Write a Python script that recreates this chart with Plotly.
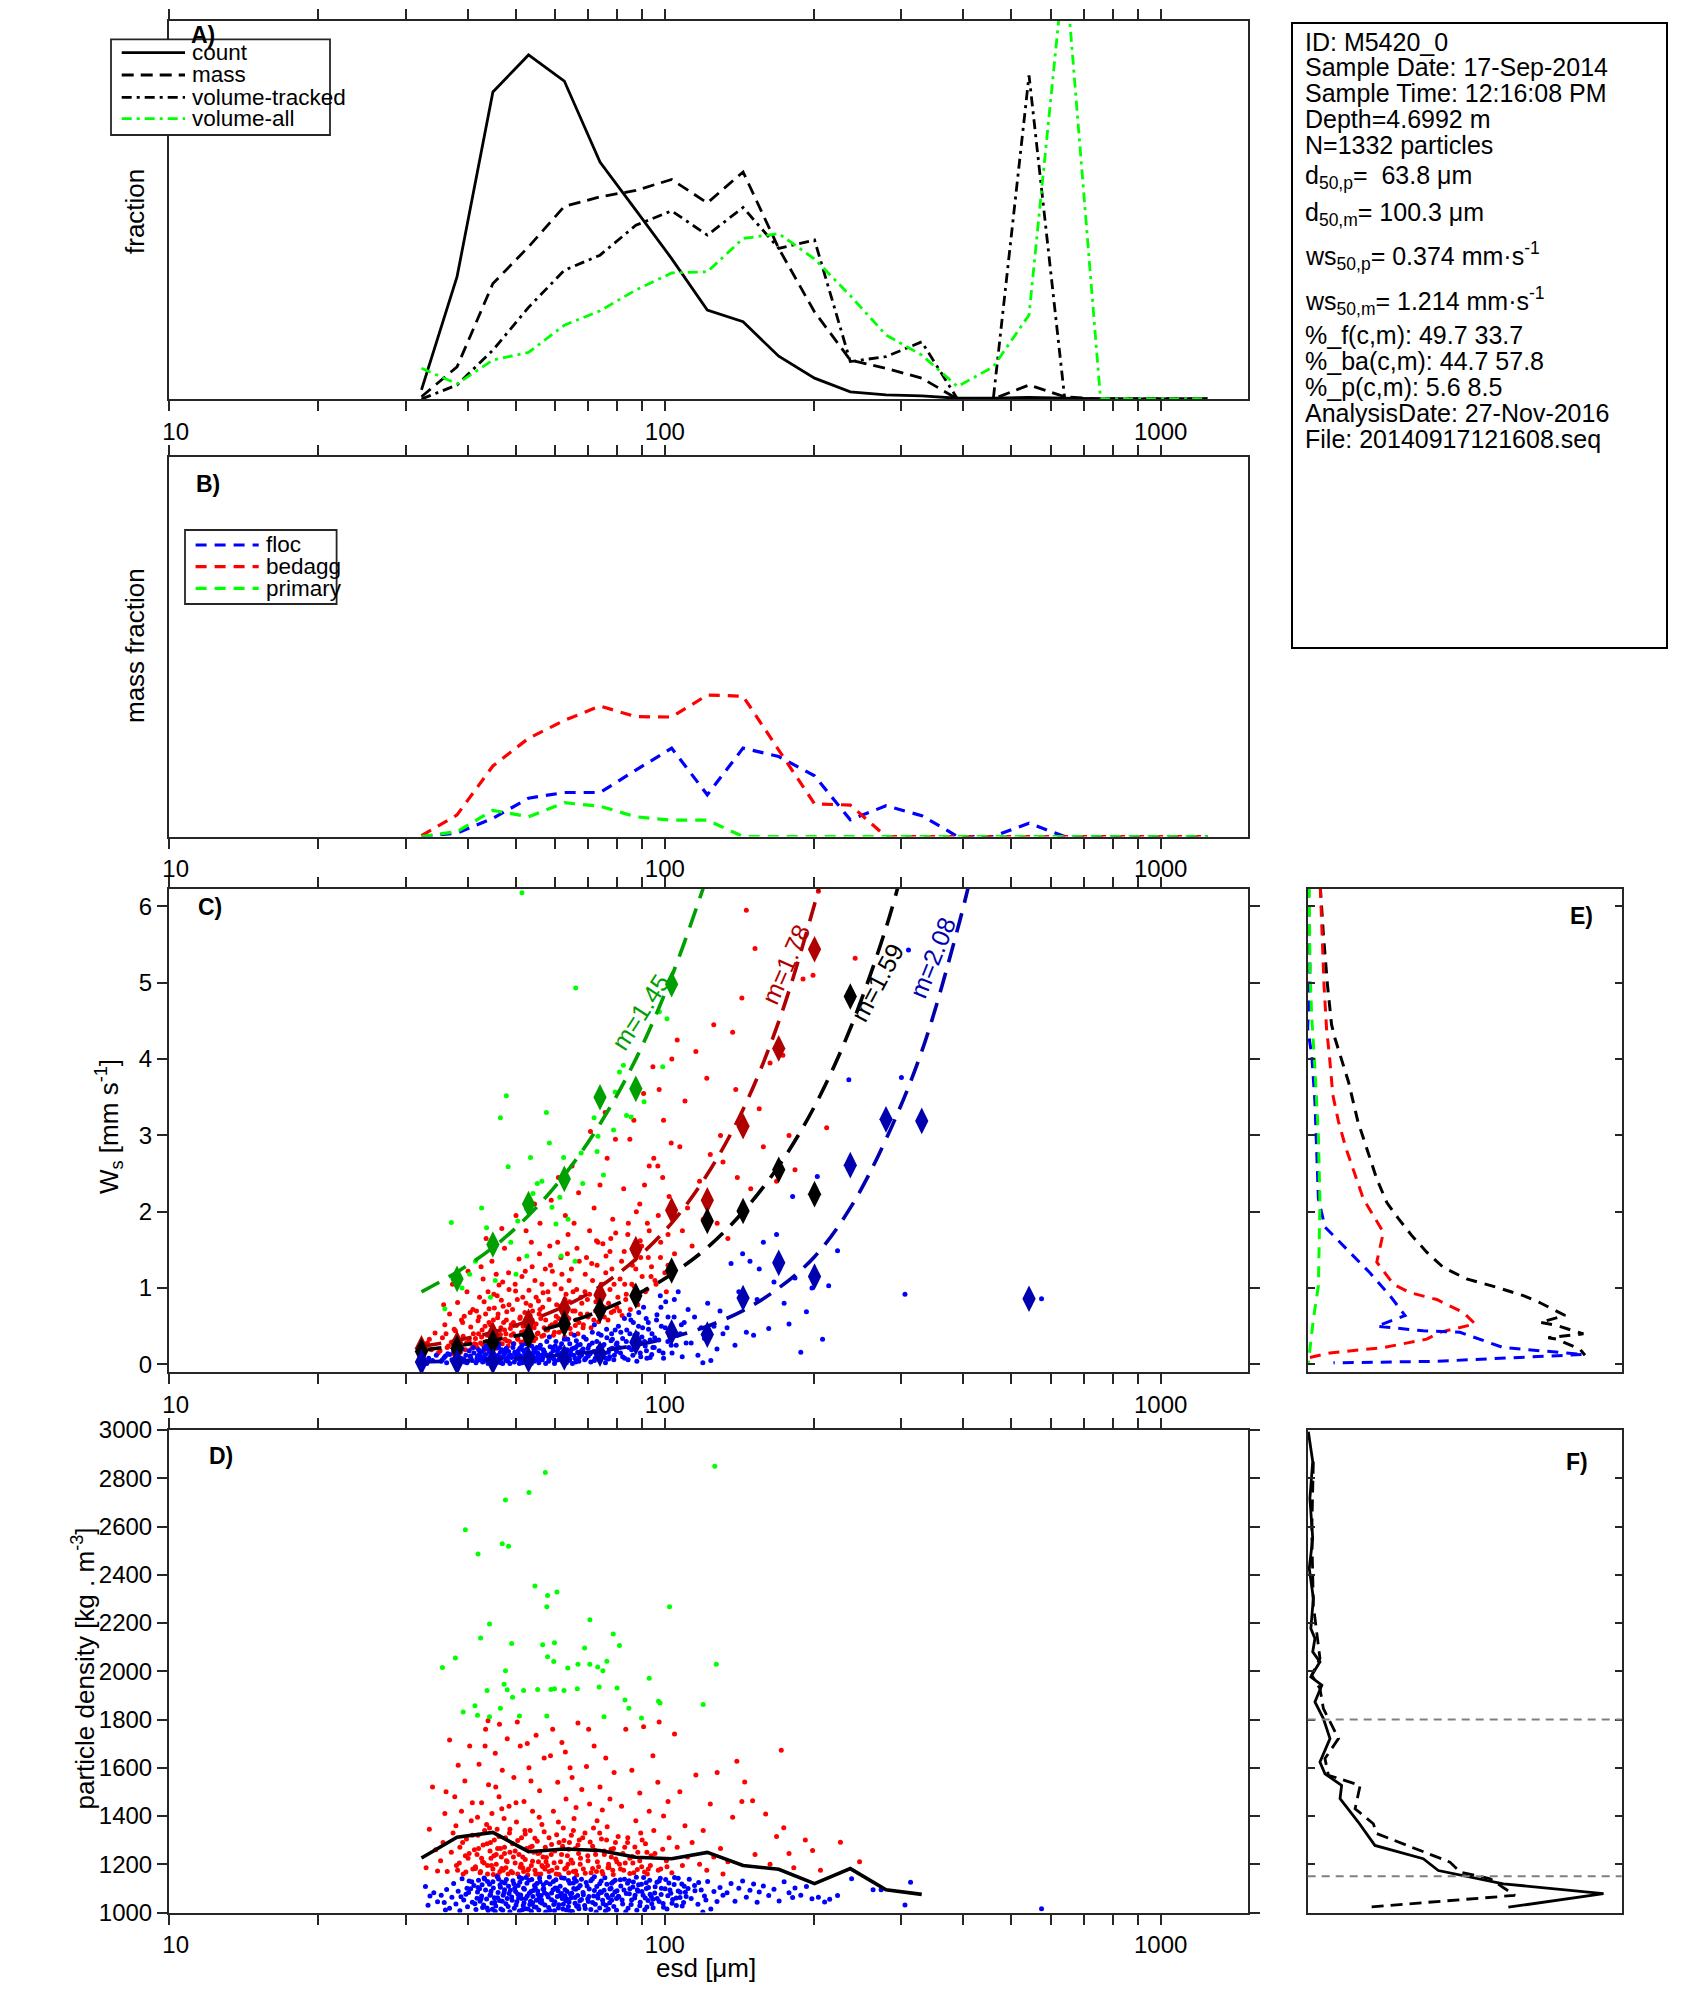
import math
import plotly.graph_objects as go

W, H = 1694, 2015
OFF = 8                      # default page margin of the html body
FW, FH = W - 2 * OFF, H - 2 * OFF
FONT = "Liberation Sans, Arial, Helvetica, sans-serif"
AXC = "#262626"

# ---------------- Panel A / B : size distributions ----------------
esd_bins = [32.3, 38.1, 45.0, 53.1, 62.7, 74.0, 87.4, 103.2, 121.8, 143.8, 169.7, 200.4,
            236.6, 279.3, 329.7, 389.3, 459.6, 542.6, 640.6, 756.3, 892.9, 1054, 1245]
frac_count = [0.024, 0.323, 0.811, 0.909, 0.840, 0.626, 0.499, 0.371, 0.235, 0.204, 0.113, 0.055,
              0.019, 0.011, 0.008, 0.002, 0.002, 0.004, 0.002, 0, 0, 0, 0]
frac_mass = [0.006, 0.085, 0.305, 0.402, 0.509, 0.534, 0.551, 0.580, 0.518, 0.600, 0.398, 0.230,
             0.103, 0.081, 0.055, 0.0, 0.0, 0.037, 0.006, 0, 0, 0, 0]
frac_voltr = [0.0, 0.037, 0.129, 0.242, 0.340, 0.380, 0.459, 0.497, 0.433, 0.506, 0.398, 0.420,
              0.099, 0.112, 0.151, 0.0, 0.0, 0.855, 0.0, 0, 0, 0, 0]
frac_volall = [0.081, 0.040, 0.103, 0.123, 0.195, 0.233, 0.288, 0.333, 0.336, 0.424, 0.437, 0.370,
               0.273, 0.169, 0.116, 0.033, 0.085, 0.222, 1.16, 0, 0, 0, 0]
names_A = ["count", "mass", "volume-tracked", "volume-all"]

mf_floc = [0, 0.009, 0.048, 0.101, 0.116, 0.116, 0.175, 0.233, 0.110, 0.233, 0.211, 0.160,
           0.044, 0.081, 0.055, 0, 0, 0.035, 0, 0, 0, 0, 0]
mf_bedagg = [0.002, 0.057, 0.186, 0.259, 0.306, 0.344, 0.316, 0.315, 0.373, 0.370, 0.228, 0.086,
             0.083, 0, 0, 0, 0, 0, 0, 0, 0, 0, 0]
mf_primary = [0, 0.013, 0.069, 0.052, 0.089, 0.080, 0.052, 0.043, 0.043, 0, 0, 0,
              0, 0, 0, 0, 0, 0, 0, 0, 0, 0, 0]
names_B = ["floc", "bedagg", "primary"]

x_tick_vals = [10, 100, 1000]
x_tick_text = ["\u00a0\u00a010", "100", "1000"]

# ---------------- Panel C : settling velocity ----------------
c_floc = [(32.7,0.03),(33.4,0.08),(34.0,0.05),(34.6,0.12),(33.1,0.01),
    (35.4,0.04),(35.9,0.09),(36.3,0.02),(36.8,0.13),(37.2,0.06),(37.5,0.17),(37.9,0.03),(38.3,0.10),(38.6,0.01),(39.0,0.20),
    (39.3,0.07),(39.7,0.12),(40.0,0.04),(40.3,0.18),(40.6,0.09),(40.9,0.05),(41.2,0.15),(38.8,0.08),(36.1,0.11),(39.9,0.02),
    (41.6,0.02),(41.9,0.11),(42.1,0.19),(42.4,0.06),(42.7,0.09),(42.9,0.03),(43.2,0.21),(43.5,0.13),(43.7,0.07),(44.0,0.01),
    (44.3,0.16),(44.5,0.10),(44.8,0.05),(45.1,0.15),(45.3,0.08),(45.6,0.04),(45.9,0.23),(46.1,0.12),(46.4,0.07),(46.7,0.02),
    (46.9,0.19),(47.2,0.10),(47.5,0.14),(47.8,0.05),(48.1,0.08),(48.4,0.17),(48.7,0.01),(42.3,0.14),(43.9,0.20),(44.9,0.02),
    (46.2,0.22),(47.6,0.18),(48.5,0.11),(45.4,0.06),(41.8,0.08),(43.1,0.04),(46.6,0.16),(47.1,0.01),(44.6,0.12),(42.8,0.17),
    (49.1,0.09),(49.4,0.22),(49.7,0.03),(50.0,0.13),(50.3,0.07),(50.6,0.18),(50.9,0.01),(51.2,0.11),(51.5,0.25),(51.8,0.05),
    (52.1,0.16),(52.4,0.09),(52.7,0.20),(53.0,0.02),(53.3,0.13),(53.6,0.07),(53.9,0.24),(54.2,0.11),(54.5,0.04),(54.8,0.17),
    (55.1,0.08),(55.4,0.15),(55.7,0.02),(56.0,0.21),(56.3,0.12),(56.6,0.06),(56.9,0.19),(57.2,0.14),(57.5,0.01),(49.8,0.16),
    (50.7,0.10),(51.6,0.02),(52.5,0.27),(53.4,0.05),(54.3,0.15),(55.2,0.22),(56.1,0.07),(57.0,0.17),(51.0,0.21),(53.8,0.01),
    (55.8,0.10),(52.0,0.06),
    (57.9,0.12),(58.3,0.04),(58.7,0.23),(59.1,0.09),(59.5,0.18),(59.9,0.01),(60.3,0.30),(60.7,0.13),(61.1,0.06),(61.5,0.22),
    (61.9,0.15),(62.3,0.03),(62.7,0.33),(63.1,0.10),(63.5,0.19),(63.9,0.05),(64.3,0.27),(64.7,0.13),(65.1,0.01),(65.5,0.21),
    (65.9,0.08),(66.3,0.31),(66.7,0.16),(67.1,0.04),(67.5,0.26),(67.9,0.12),(58.5,0.36),(59.7,0.07),(60.9,0.20),(62.1,0.12),
    (63.3,0.02),(64.5,0.17),(65.7,0.38),(66.9,0.06),(60.1,0.24),(62.9,0.15),(64.1,0.09),(66.1,0.22),
    (68.4,0.20),(68.9,0.06),(69.4,0.33),(69.9,0.13),(70.4,0.25),(70.9,0.03),(71.4,0.42),(71.9,0.17),(72.4,0.08),(72.9,0.30),
    (73.4,0.21),(73.9,0.05),(74.4,0.38),(74.9,0.13),(75.4,0.26),(75.9,0.02),(76.4,0.35),(76.9,0.16),(77.4,0.10),(77.9,0.31),
    (78.4,0.21),(78.9,0.06),(79.4,0.45),(79.9,0.17),(70.1,0.11),(72.1,0.52),(74.1,0.24),(76.1,0.08),(78.1,0.40),(80.1,0.28),
    (80.8,0.22),(81.5,0.42),(82.2,0.10),(82.9,0.60),(83.6,0.30),(84.3,0.06),(85.0,0.40),(85.7,0.19),(86.4,0.55),(87.1,0.28),
    (87.8,0.04),(88.5,0.50),(89.2,0.15),(89.9,0.36),(90.6,0.75),(91.3,0.24),(92.0,0.08),(92.7,0.46),(93.4,0.32),(94.1,0.13),
    (84.7,0.65),(88.0,0.40),(91.7,0.60),(94.6,0.22),
    (95.4,0.35),(96.4,0.65),(97.4,0.18),(98.4,0.50),(99.4,0.08),(100.4,0.82),(101.4,0.30),(102.4,0.45),(103.4,0.15),(104.4,0.62),
    (105.4,0.25),(106.4,0.95),(107.4,0.40),(108.4,0.10),(109.4,0.55),(110.4,0.28),(111.4,0.72),(97.9,0.90),
    (113,0.28),(114.8,0.62),(116.6,0.12),(118.4,0.48),(120.2,0.34),(122,0.80),(123.8,0.05),(125.6,0.50),(127.4,0.20),(129.2,0.70),
    (131,0.40),(119.3,0.02),(133.5,0.48),(136,1.32),(138.5,0.25),(141,0.95),(143.5,1.45),(146,0.42),(148.5,1.35),(151,0.38),
    (153.5,0.85),(155,1.25),(158,1.60),(162,0.47),(166,1.08),(168,1.70),(174,0.80),(178,0.53),(181,2.20),(183,1.13),
    (188,0.16),(193,0.69),(198,1.00),(203,2.46),(208,0.33),(214,1.03),(223,1.49),(235,3.73),(300,3.76),(305,0.92),
    (310,5.43),(575,0.86),
    (35.6,0.06),(36.5,0.14),(37.7,0.08),(38.1,0.19),(39.5,0.03),(40.5,0.11),(41.1,0.22),(41.9,0.05),(42.5,0.16),(43.0,0.10),
    (43.6,0.24),(44.1,0.07),(44.7,0.18),(45.2,0.12),(45.8,0.02),(46.3,0.26),(46.8,0.09),(47.4,0.15),(47.9,0.21),(48.3,0.04),
    (48.9,0.12),(49.5,0.27),(50.1,0.08),(50.6,0.15),(51.1,0.05),(51.7,0.19),(52.2,0.11),(52.8,0.28),(53.3,0.03),(53.9,0.14),
    (54.4,0.20),(55.0,0.06),(55.5,0.12),(56.1,0.25),(56.7,0.09),(57.2,0.16),(57.8,0.30),(58.4,0.07),(58.9,0.14),(59.5,0.22),
    (60.1,0.04),(60.7,0.18),(61.3,0.11),(61.9,0.27),(62.5,0.08),(63.1,0.15),(63.7,0.33),(64.3,0.06),(64.9,0.20),(65.5,0.12),
    (66.1,0.03),(66.7,0.25),(67.3,0.10),(67.9,0.18),(68.6,0.36),(69.3,0.08),(70.0,0.21),(70.7,0.14),(71.4,0.28),(72.1,0.05),
    (72.8,0.17),(73.5,0.40),(74.2,0.10),(74.9,0.24),(75.6,0.15),(76.3,0.46),(77.0,0.07),(77.7,0.20),(78.4,0.33),(79.1,0.12),
    (79.8,0.26),(80.6,0.50),(81.4,0.15),(82.2,0.34),(83.0,0.08),(83.8,0.45),(84.6,0.22),(85.4,0.58),(86.2,0.12),(87.0,0.38),
    (87.8,0.26),(88.6,0.68),(89.4,0.10),(90.2,0.48),(91.0,0.30),(91.8,0.18),(92.6,0.55),(93.4,0.09),(94.2,0.40),(95.2,0.22),
    (96.2,0.58),(97.2,0.32),(98.2,0.75),(99.2,0.15),(100.2,0.48),(101.5,0.62),(103,0.25),(104.5,0.85),(106,0.38),(108,0.52)]

c_bedagg = [(32.6,0.12),(33.2,0.28),(33.8,0.19),(34.4,0.41),(34.9,0.15),(33.5,0.33),
    (35.2,0.18),(35.6,0.35),(36.0,0.52),(36.4,0.22),(36.8,0.66),(37.1,0.29),(37.5,0.14),(37.8,0.44),(38.2,0.81),(38.5,0.25),
    (38.9,0.58),(39.2,0.37),(39.6,0.19),(39.9,0.95),(40.3,0.31),(40.6,0.49),(41.0,0.72),(41.3,0.27),(36.2,0.40),(37.3,1.05),
    (38.7,0.16),(39.4,0.63),(40.1,1.22),(40.8,0.21),(35.8,0.78),
    (41.5,0.34),(41.8,0.22),(42.0,0.57),(42.3,0.88),(42.5,0.28),(42.8,0.45),(43.0,1.12),(43.3,0.19),(43.5,0.66),(43.8,0.38),
    (44.0,0.95),(44.3,0.25),(44.5,0.52),(44.8,1.35),(45.0,0.31),(45.3,0.74),(45.5,0.43),(45.8,0.21),(46.0,0.61),(46.3,1.04),
    (46.5,0.35),(46.8,0.84),(47.0,0.27),(47.3,0.55),(47.5,1.52),(47.8,0.40),(48.0,0.69),(48.3,0.24),(48.5,0.98),(48.8,0.47),
    (41.7,0.70),(42.6,1.28),(43.4,0.50),(44.2,0.73),(45.1,0.58),(45.9,0.90),(46.7,0.48),(47.6,0.33),(48.4,1.20),(42.9,0.26),
    (44.6,0.36),(46.2,0.30),(47.9,0.58),(43.6,1.65),(45.7,1.18),(47.2,0.76),(44.9,0.44),(46.9,1.78),(48.6,0.30),(42.1,0.40),
    (49.0,0.38),(49.3,0.72),(49.6,0.27),(49.9,1.05),(50.2,0.51),(50.5,0.33),(50.8,1.38),(51.1,0.62),(51.4,0.42),(51.7,0.88),
    (52.0,0.30),(52.3,1.22),(52.6,0.56),(52.9,0.36),(53.2,0.97),(53.5,0.47),(53.8,1.60),(54.1,0.70),(54.4,0.31),(54.7,1.10),
    (55.0,0.53),(55.3,0.40),(55.6,0.83),(55.9,1.45),(56.2,0.60),(56.5,0.37),(56.8,0.94),(57.1,0.48),(57.4,1.25),(49.5,0.55),
    (50.4,0.85),(51.3,0.29),(52.2,0.68),(53.1,0.41),(54.0,0.58),(54.9,0.34),(55.8,0.66),(56.7,0.75),(57.6,0.45),(50.1,1.95),
    (52.5,1.75),(54.6,2.10),(56.0,1.85),(51.8,0.50),(53.6,0.77),
    (58.0,0.45),(58.4,0.85),(58.8,1.30),(59.2,0.52),(59.6,0.38),(60.0,1.05),(60.4,0.63),(60.8,1.60),(61.2,0.42),(61.6,0.76),
    (62.0,1.18),(62.4,0.55),(62.8,0.36),(63.2,0.92),(63.6,1.45),(64.0,0.60),(64.4,0.47),(64.8,1.25),(65.2,0.70),(65.6,1.85),
    (66.0,0.51),(66.4,0.98),(66.8,0.40),(67.2,1.35),(67.6,0.66),(68.0,0.80),(59.0,2.15),(61.0,2.45),(63.0,1.95),(65.0,2.60),
    (67.0,2.25),(60.2,0.55),(62.2,0.44),(64.2,0.82),(66.2,0.58),(58.6,1.55),(63.8,1.70),(61.8,0.99),
    (68.5,0.52),(69.0,0.95),(69.5,1.40),(70.0,0.62),(70.5,1.75),(71.0,0.48),(71.5,1.10),(72.0,2.05),(72.5,0.70),(73.0,1.30),
    (73.5,0.56),(74.0,2.35),(74.5,0.88),(75.0,1.58),(75.5,0.62),(76.0,1.20),(76.5,2.70),(77.0,0.80),(77.5,1.48),(78.0,0.68),
    (78.5,1.90),(79.0,1.05),(79.5,2.95),(80.0,0.75),(70.8,3.05),(73.8,1.00),(75.8,3.30),(77.8,1.65),(69.8,0.85),(72.8,1.62),
    (81.0,0.70),(81.8,1.35),(82.6,2.30),(83.4,0.85),(84.2,1.70),(85.0,2.95),(85.8,1.05),(86.6,3.20),(87.4,1.25),(88.2,0.78),
    (89.0,2.10),(89.8,1.55),(90.6,3.55),(91.4,0.95),(92.2,1.85),(93.0,2.60),(93.8,1.15),(94.6,3.90),(83.0,1.05),(86.2,0.90),
    (89.4,1.40),(92.6,1.40),
    (95.5,1.10),(96.8,2.60),(98.1,1.60),(99.4,3.20),(100.7,0.95),(102.0,2.20),(103.3,4.00),(104.6,1.45),(105.9,4.25),(107.2,2.85),
    (108.5,1.75),(109.8,3.45),(111.1,2.05),(97.4,3.60),(101.5,1.30),
    (113.5,1.55),(115.5,4.10),(117.5,2.40),(119.5,1.90),(121.5,3.75),(123.5,2.75),(125.5,4.45),(127.5,1.85),(129.5,3.00),(131,2.65),
    (134,1.65),(137,4.35),(140,2.45),(143,4.80),(146,5.95),(149,2.30),(152,5.45),(155,3.35),(139,3.60),
    (158,2.85),(163,3.95),(168,2.40),(173,4.05),(178,3.00),(183,2.55),(190,5.05),(199,5.10),(204,6.20),(212,3.10),(242,5.32),
    (36.6,0.24),(37.6,0.46),(38.4,0.32),(39.1,0.55),(39.8,0.28),(40.5,0.68),(41.1,0.40),(41.6,0.26),(42.2,0.62),(42.7,0.36),
    (43.2,0.82),(43.7,0.30),(44.2,0.55),(44.7,0.42),(45.2,0.92),(45.6,0.29),(46.1,0.66),(46.6,0.39),(47.1,1.08),(47.5,0.45),
    (48.0,0.31),(48.5,0.78),(49.0,0.52),(49.5,0.40),(50.0,0.96),(50.5,0.34),(51.0,0.60),(51.5,1.15),(52.0,0.43),(52.5,0.80),
    (53.0,0.36),(53.5,0.64),(54.0,1.28),(54.5,0.48),(55.0,0.88),(55.5,0.41),(56.0,0.72),(56.5,1.05),(57.0,0.38),(57.5,0.58),
    (58.1,0.95),(58.7,0.50),(59.3,1.22),(59.9,0.42),(60.5,0.78),(61.1,0.60),(61.7,1.40),(62.3,0.47),(62.9,0.85),(63.5,0.62),
    (64.1,1.10),(64.7,0.40),(65.3,0.95),(65.9,0.70),(66.5,1.52),(67.1,0.55),(67.7,0.88),(68.4,0.48),(69.1,1.18),(69.8,0.66),
    (70.5,0.92),(71.2,1.32),(71.9,0.58),(72.6,0.82),(73.3,1.60),(74.0,0.64),(74.7,1.05),(75.4,0.75),(76.1,1.42),(76.8,0.58),
    (77.5,0.98),(78.2,1.25),(78.9,0.70),(79.6,1.72),(80.4,0.88),(81.2,1.12),(82.0,0.64),(82.8,1.48),(83.6,0.92),(84.4,1.85),
    (85.2,0.72),(86.0,1.30),(86.8,1.02),(87.6,2.00),(88.4,0.86),(89.2,1.62),(90.0,1.15),(91.0,2.35),(92.0,0.98),(93.0,1.75),
    (94.0,1.28),(95.0,2.70),(96.0,1.05),(97.0,1.95),(98.0,1.40),(99.0,2.45),(100.0,1.20),(101.5,1.70),(103,2.90),(105,1.95)]

c_primary = [(37.1,1.86),(36.0,0.73),(39.0,1.00),(40.4,1.18),(41.5,1.35),(43.7,1.79),(44.5,0.88),(46.6,3.23),(47.9,3.52),
    (48.3,2.59),(50.1,1.18),(50.5,1.88),(51.5,6.18),(52.7,1.42),(53.6,2.71),(54.2,2.24),(57.7,3.30),(58.5,2.90),(59.2,2.06),
    (60.3,1.84),(61.4,2.19),(62.5,2.71),(61.8,1.42),(65.9,1.35),(66.1,4.93),(67.8,2.77),(72.0,3.23),(73.3,2.99),(73.0,2.79),
    (75.2,2.48),(79.4,3.57),(81.0,3.83),(82.5,3.92),(83.7,3.26),(85.5,3.24),(90.8,3.44),(97.5,4.62),(101.0,4.53),(99.0,3.90),
    (42.7,2.05),(45.5,1.10),(48.9,1.60),(55.3,2.37),(56.5,2.40),(63.8,1.90),(68.3,2.37),(78.8,3.07),(52.6,2.04)]

# bin medians (diamonds) and fitted power-law curves
dia_green_x = [38.1, 45.0, 53.1, 62.7, 74.0, 87.4, 103.2]
dia_green_ws = [1.12, 1.57, 2.10, 2.43, 3.50, 3.61, 4.98]
dia_red_x = [32.3, 38.1, 45.0, 53.1, 62.7, 74.0, 87.4, 103.2, 121.8, 143.8, 169.7, 200.4]
dia_red_ws = [0.21, 0.27, 0.39, 0.56, 0.73, 0.91, 1.51, 2.02, 2.15, 3.12, 4.14, 5.44]
dia_black_x = [32.3, 38.1, 45.0, 53.1, 62.7, 74.0, 87.4, 103.2, 121.8, 143.8, 169.7, 200.4, 236.6]
dia_black_ws = [0.17, 0.21, 0.29, 0.37, 0.53, 0.71, 0.90, 1.23, 1.88, 2.01, 2.55, 2.23, 4.82]
dia_blue_x = [32.3, 38.1, 45.0, 53.1, 62.7, 74.0, 87.4, 103.2, 121.8, 143.8, 169.7, 200.4, 236.6, 279.3, 329.7, 542.6]
dia_blue_ws = [0.03, 0.03, 0.04, 0.06, 0.09, 0.14, 0.29, 0.42, 0.39, 0.87, 1.33, 1.15, 2.61, 3.21, 3.19, 0.86]

fit_green_x = [32.3, 38.1, 45.0, 53.1, 62.7, 74.0, 87.4, 103.2, 121.8]
fit_green_ws = [0.95, 1.21, 1.53, 1.95, 2.48, 3.15, 4.00, 5.08, 6.40]
fit_red_x = [32.3, 38.1, 45.0, 53.1, 62.7, 74.0, 87.4, 103.2, 121.8, 143.8, 169.7, 200.4, 215.0]
fit_red_ws = [0.235, 0.315, 0.42, 0.57, 0.76, 1.02, 1.38, 1.85, 2.49, 3.34, 4.49, 6.03, 6.80]
fit_black_x = [32.3, 38.1, 45.0, 53.1, 62.7, 74.0, 87.4, 103.2, 121.8, 143.8, 169.7, 200.4, 236.6, 279.3, 305.0]
fit_black_ws = [0.187, 0.243, 0.316, 0.41, 0.535, 0.70, 0.91, 1.18, 1.53, 2.00, 2.60, 3.38, 4.40, 5.72, 6.60]
fit_blue_x = [32.3, 38.1, 45.0, 53.1, 62.7, 74.0, 87.4, 103.2, 121.8, 143.8, 169.7, 200.4, 236.6, 279.3, 329.7, 389.3, 425.0]
fit_blue_ws = [0.032, 0.045, 0.063, 0.089, 0.126, 0.178, 0.25, 0.355, 0.50, 0.705, 1.00, 1.41, 2.05, 2.95, 4.10, 5.70, 6.70]
fit_labels = ["m=1.45", "m=1.78", "m=1.59", "m=2.08"]
fit_label_x = [89.2, 175.6, 267.4, 345.6]
fit_label_ws = [4.62, 5.24, 5.00, 5.33]

# ---------------- Panel D : particle density ----------------
d_floc = [(32.9,1108),(33.6,1068),(34.2,1082),(34.8,1045),(33.3,1030),
    (35.4,1072),(35.9,1041),(36.3,1095),(36.8,1018),(37.2,1063),(37.5,1120),(37.9,1035),(38.3,1088),(38.6,1007),(39.0,1140),
    (39.3,1052),(39.7,1076),(40.0,1024),(40.3,1131),(40.6,1098),(40.9,1043),(41.2,1112),(38.8,1065),(36.1,1010),(39.9,1101),
    (41.6,1012),(41.9,1085),(42.1,1134),(42.4,1047),(42.7,1068),(42.9,1021),(43.2,1143),(43.5,1093),(43.7,1056),(44.0,1008),
    (44.3,1117),(44.5,1074),(44.8,1039),(45.1,1102),(45.3,1061),(45.6,1027),(45.9,1148),(46.1,1083),(46.4,1050),(46.7,1015),
    (46.9,1126),(47.2,1071),(47.5,1094),(47.8,1036),(48.1,1058),(48.4,1109),(48.7,1003),(42.3,1098),(43.9,1129),(44.9,1013),
    (46.2,1139),(47.6,1122),(48.5,1079),(45.4,1043),(41.8,1059),(43.1,1031),(46.6,1105),(47.1,1009),(44.6,1088),(42.8,1115),
    (49.1,1064),(49.4,1132),(49.7,1018),(50.0,1087),(50.3,1045),(50.6,1112),(50.9,1006),(51.2,1073),(51.5,1141),(51.8,1029),
    (52.1,1096),(52.4,1058),(52.7,1121),(53.0,1014),(53.3,1080),(53.6,1047),(53.9,1137),(54.2,1066),(54.5,1024),(54.8,1103),
    (55.1,1051),(55.4,1089),(55.7,1010),(56.0,1127),(56.3,1070),(56.6,1038),(56.9,1115),(57.2,1082),(57.5,1002),(49.8,1100),
    (50.7,1060),(51.6,1011),(52.5,1145),(53.4,1033),(54.3,1091),(55.2,1120),(56.1,1042),(57.0,1098),(51.0,1125),(53.8,1005),
    (55.8,1061),(52.0,1040),
    (57.9,1075),(58.3,1021),(58.7,1118),(59.1,1053),(59.5,1094),(59.9,1007),(60.3,1136),(60.7,1066),(61.1,1032),(61.5,1109),
    (61.9,1079),(62.3,1015),(62.7,1142),(63.1,1048),(63.5,1087),(63.9,1025),(64.3,1121),(64.7,1061),(65.1,1004),(65.5,1099),
    (65.9,1038),(66.3,1130),(66.7,1070),(67.1,1016),(67.5,1112),(67.9,1054),(58.5,1147),(59.7,1033),(60.9,1090),(62.1,1058),
    (63.3,1010),(64.5,1077),(65.7,1141),(66.9,1028),(60.1,1102),(62.9,1069),(64.1,1044),(66.1,1096),
    (68.4,1083),(68.9,1029),(69.4,1124),(69.9,1056),(70.4,1097),(70.9,1012),(71.4,1139),(71.9,1068),(72.4,1034),(72.9,1108),
    (73.4,1076),(73.9,1019),(74.4,1131),(74.9,1051),(75.4,1092),(75.9,1006),(76.4,1117),(76.9,1062),(77.4,1040),(77.9,1101),
    (78.4,1072),(78.9,1025),(79.4,1134),(79.9,1058),(70.1,1046),(72.1,1148),(74.1,1086),(76.1,1030),(78.1,1121),(80.1,1090),
    (80.8,1064),(81.5,1110),(82.2,1035),(82.9,1138),(83.6,1079),(84.3,1018),(85.0,1098),(85.7,1052),(86.4,1126),(87.1,1071),
    (87.8,1009),(88.5,1115),(89.2,1043),(89.9,1087),(90.6,1145),(91.3,1060),(92.0,1023),(92.7,1104),(93.4,1076),(94.1,1036),
    (84.7,1132),(88.0,1094),(91.7,1123),(94.6,1055),
    (95.4,1081),(96.4,1125),(97.4,1046),(98.4,1101),(99.4,1022),(100.4,1137),(101.4,1069),(102.4,1093),(103.4,1038),(104.4,1116),
    (105.4,1060),(106.4,1142),(107.4,1084),(108.4,1027),(109.4,1109),(110.4,1066),(111.4,1099),(97.9,1142),
    (113,1058),(114.8,1112),(116.6,1034),(118.4,1093),(120.2,1068),(122,1128),(123.8,1015),(125.6,1087),(127.4,1046),(129.2,1104),
    (131,1072),(119.3,1002),(133.5,1082),(136,1120),(138.5,1047),(141,1101),(143.5,1131),(146,1063),(148.5,1092),(151,1118),
    (153.5,1042),(155,1085),(158,1110),(162,1070),(166,1096),(170,1048),(174,1127),(178,1082),(181,1062),(183,1102),
    (188,1072),(193,1108),(198,1057),(204,1063),(210,1044),(215,1055),(223,1070),(238,1140),(263,1094),(273,1094),
    (305,1031),(313,1125),(575,1016),
    (40.2,1083),(40.8,1127),(41.4,1036),(42.0,1104),(42.6,1057),(43.3,1139),(43.8,1019),(44.4,1072),(45.0,1127),(45.5,1004),
    (46.0,1061),(46.5,1114),(47.0,1047),(47.4,1083),(47.9,1137),(48.3,1025),(48.8,1092),(49.2,1051),(49.6,1119),(50.1,1031),
    (50.5,1077),(50.9,1146),(51.4,1058),(51.9,1100),(52.3,1016),(52.8,1068),(53.2,1134),(53.7,1087),(54.1,1040),(54.6,1112),
    (55.0,1022),(55.5,1076),(55.9,1143),(56.4,1052),(56.8,1096),(57.3,1031),(57.7,1124),(58.2,1064),(58.6,1009),(59.1,1081),
    (59.6,1129),(60.0,1045),(60.5,1101),(61.0,1019),(61.4,1070),(61.9,1144),(62.4,1034),(62.9,1094),(63.4,1056),(63.9,1133),
    (64.4,1005),(64.9,1080),(65.4,1122),(65.9,1062),(66.4,1026),(66.9,1103),(67.4,1049),(67.9,1138),(68.5,1074),(69.1,1017),
    (69.7,1110),(70.3,1066),(70.9,1132),(71.5,1041),(72.1,1091),(72.7,1002),(73.3,1060),(73.9,1119),(74.5,1083),(75.1,1036),
    (75.7,1144),(76.3,1073),(76.9,1013),(77.5,1097),(78.1,1051),(78.7,1127),(79.3,1085),(79.9,1009),(80.6,1067),(81.3,1136),
    (82.0,1052),(82.7,1093),(83.4,1003),(84.1,1121),(84.8,1078),(85.5,1033),(86.2,1106),(86.9,1060),(87.6,1146),(88.3,1088),
    (89.0,1028),(89.7,1117),(90.4,1071),(91.1,1011),(91.8,1099),(92.5,1050),(93.2,1134),(93.9,1066),(94.7,1020),(95.6,1107),
    (96.5,1058),(97.4,1131),(98.3,1075),(99.2,1037),(100.1,1098),(101.0,1015),(101.9,1122),(102.8,1080),(103.7,1054),(104.6,1145),
    (105.5,1029),(106.4,1089),(107.3,1062),(108.2,1118),(109.1,1041),(110.0,1084),(112,1138),(115,1090),(117,1124),(121,1052)]

d_bedagg = [(33.0,1185),(33.5,1345),(34.0,1520),(34.5,1260),(34.8,1172),
    (35.3,1215),(35.7,1290),(36.0,1410),(36.4,1170),(36.8,1715),(37.1,1250),(37.4,1330),(37.7,1480),(38.0,1195),(38.3,1610),
    (38.6,1270),(38.9,1420),(39.2,1160),(39.5,1545),(39.8,1305),(40.1,1225),(40.4,1690),(40.7,1380),(41.0,1180),(41.3,1260),
    (36.2,1500),(37.9,1360),(39.6,1235),(40.9,1455),(38.2,1175),
    (41.5,1190),(41.8,1240),(42.0,1320),(42.2,1615),(42.5,1170),(42.7,1455),(43.0,1280),(43.2,1205),(43.5,1760),(43.7,1365),
    (43.9,1160),(44.1,1530),(44.4,1255),(44.6,1225),(44.8,1410),(45.0,1180),(45.3,1300),(45.5,1660),(45.7,1200),(45.9,1345),
    (46.1,1155),(46.3,1480),(46.6,1265),(46.8,1230),(47.0,1590),(47.2,1175),(47.4,1390),(47.7,1310),(47.9,1215),(48.1,1720),
    (48.3,1160),(48.5,1440),(48.7,1250),(41.9,1395),(42.9,1210),(43.8,1285),(44.7,1195),(45.6,1520),(46.5,1170),(47.5,1245),
    (48.6,1330),(42.4,1165),(43.4,1690),(44.3,1350),(45.2,1235),(46.0,1265),(46.9,1430),(47.8,1185),(44.0,1795),(46.4,1780),
    (49.0,1170),(49.3,1285),(49.6,1560),(49.9,1205),(50.2,1375),(50.5,1160),(50.8,1240),(51.1,1690),(51.4,1310),(51.7,1185),
    (52.0,1460),(52.3,1220),(52.6,1265),(52.9,1155),(53.2,1600),(53.5,1340),(53.8,1195),(54.1,1420),(54.4,1250),(54.7,1175),
    (55.0,1735),(55.3,1295),(55.6,1210),(55.9,1505),(56.2,1160),(56.5,1365),(56.8,1230),(57.1,1640),(57.4,1270),(49.5,1230),
    (50.4,1790),(51.3,1200),(52.2,1340),(53.1,1180),(54.0,1275),(54.9,1160),(55.8,1395),(56.7,1190),(57.6,1210),(50.1,1455),
    (51.9,1170),(53.7,1545),(55.5,1245),(57.3,1180),(52.8,1700),
    (58.0,1195),(58.4,1310),(58.8,1650),(59.2,1175),(59.6,1420),(60.0,1255),(60.4,1160),(60.8,1540),(61.2,1290),(61.6,1210),
    (62.0,1705),(62.4,1350),(62.8,1180),(63.2,1470),(63.6,1235),(64.0,1165),(64.4,1600),(64.8,1320),(65.2,1205),(65.6,1390),
    (66.0,1265),(66.4,1155),(66.8,1785),(67.2,1300),(67.6,1225),(68.0,1510),(59.0,1240),(60.6,1185),(62.2,1275),(63.8,1200),
    (65.4,1170),(67.0,1245),(61.0,1375),(64.2,1290),(66.2,1435),(59.4,1760),(63.0,1665),(65.0,1560),
    (68.5,1180),(69.0,1330),(69.5,1605),(70.0,1215),(70.5,1450),(71.0,1165),(71.5,1275),(72.0,1690),(72.5,1240),(73.0,1380),
    (73.5,1190),(74.0,1520),(74.5,1305),(75.0,1160),(75.5,1255),(76.0,1640),(76.5,1355),(77.0,1200),(77.5,1470),(78.0,1230),
    (78.5,1175),(79.0,1580),(79.5,1290),(80.0,1210),(70.2,1760),(72.8,1170),(74.8,1425),(76.8,1185),(78.8,1265),(71.8,1350),
    (81.0,1200),(81.8,1440),(82.6,1175),(83.4,1760),(84.2,1310),(85.0,1225),(85.8,1590),(86.6,1165),(87.4,1380),(88.2,1250),
    (89.0,1495),(89.8,1190),(90.6,1770),(91.4,1285),(92.2,1160),(93.0,1420),(93.8,1235),(94.6,1650),(83.0,1270),(86.2,1205),
    (89.4,1330),(92.6,1180),
    (95.5,1245),(96.8,1540),(98.1,1180),(99.4,1400),(100.7,1215),(102.0,1310),(103.3,1165),(104.6,1740),(105.9,1270),(107.2,1500),
    (108.5,1195),(109.8,1360),(111.1,1230),(97.4,1790),(101.5,1460),
    (113.5,1290),(115.5,1570),(117.5,1200),(119.5,1340),(121.5,1175),(123.5,1450),(125.5,1230),(127.5,1580),(129.5,1265),(131,1160),
    (134,1210),(137,1395),(139.7,1627),(143,1460),(144.9,1541),(150.3,1463),(152,1240),(159.7,1408),(163,1200),(168,1315),
    (171.7,1673),(173.7,1351),(178,1245),(182,1185),(192,1300),(198.6,1257),(206,1175),(226,1291),(247,1210),
    (38.5,1205),(39.1,1290),(39.7,1168),(40.3,1245),(40.9,1320),(41.5,1182),(42.1,1265),(42.7,1225),(43.3,1340),(43.9,1195),
    (44.5,1290),(45.1,1158),(45.7,1240),(46.3,1315),(46.9,1182),(47.5,1270),(48.1,1210),(48.7,1345),(49.3,1165),(49.9,1255),
    (50.5,1298),(51.1,1188),(51.7,1230),(52.3,1325),(52.9,1175),(53.5,1270),(54.1,1212),(54.7,1308),(55.3,1160),(55.9,1248),
    (56.5,1195),(57.1,1335),(57.7,1228),(58.4,1170),(59.1,1282),(59.8,1206),(60.5,1322),(61.2,1157),(61.9,1240),(62.6,1298),
    (63.3,1185),(64.0,1262),(64.7,1218),(65.4,1340),(66.1,1172),(66.8,1280),(67.5,1200),(68.3,1310),(69.1,1163),(69.9,1235),
    (70.7,1292),(71.5,1182),(72.3,1258),(73.1,1210),(73.9,1330),(74.7,1170),(75.5,1240),(76.3,1300),(77.1,1188),(77.9,1262),
    (78.7,1158),(79.6,1222),(80.5,1315),(81.4,1180),(82.3,1245),(83.2,1205),(84.1,1290),(85.0,1162),(86.0,1232),(87.0,1272),
    (88.0,1178),(89.0,1215),(90.0,1300),(91.0,1168),(92.0,1250),(93.5,1195),(95.0,1340),(97.0,1175),(99.0,1262),(101.0,1190)]

d_primary = [(126.1,2850),(57.4,2824),(53.2,2741),(47.7,2710),(39.6,2587),(47.0,2528),(48.4,2518),(42.0,2486),(54.7,2353),
    (60.6,2328),(58.0,2314),(57.8,2267),(102.2,2267),(70.6,2213),(44.3,2196),(42.5,2138),(49.1,2115),(78.7,2154),(81.0,2107),
    (56.7,2110),(59.9,2118),(68.9,2096),(37.8,2055),(35.6,2016),(58.0,2060),(59.7,2040),(63.7,2013),(66.8,2029),(70.6,2029),
    (73.2,2018),(75.0,2002),(76.4,2041),(47.7,2002),(127.0,2029),(93.0,1971),(47.4,1946),(48.1,1923),(43.8,1920),(49.3,1892),
    (51.9,1920),(55.4,1924),(58.9,1924),(59.9,1927),(62.6,1920),(66.6,1927),(73.7,1935),(80.1,1931),(83.1,1881),(84.6,1847),
    (97.1,1876),(97.8,1868),(119.5,1862),(39.2,1831),(41.4,1857),(41.9,1818),(44.3,1811),(46.6,1847),(50.9,1814),(57.8,1814),
    (75.4,1811),(89.7,1806)]

mean_rho_x = [32.3, 38.1, 45.0, 53.1, 62.7, 74.0, 87.4, 103.2, 121.8, 143.8, 169.7, 200.4, 236.6, 279.3, 329.7]
mean_rho = [1226, 1312, 1332, 1252, 1263, 1257, 1229, 1223, 1249, 1195, 1179, 1120, 1182, 1094, 1075]

# ---------------- Panel E : ws distributions (x = relative frequency) ----------------
e_all_f = [0.04, 0.05, 0.063, 0.076, 0.087, 0.13, 0.16, 0.188, 0.22, 0.252, 0.289, 0.331, 0.379, 0.432, 0.506,
           0.602, 0.687, 0.729, 0.793, 0.82, 0.74, 0.793, 0.878, 0.766, 0.793, 0.867, 0.883]
e_all_ws = [6.26, 5.63, 4.97, 4.45, 4.27, 3.70, 3.18, 2.83, 2.43, 2.12, 1.91, 1.69, 1.47, 1.27, 1.12,
            1.01, 0.90, 0.83, 0.70, 0.64, 0.55, 0.51, 0.40, 0.35, 0.33, 0.20, 0.12]
e_bed_f = [0.04, 0.045, 0.052, 0.06, 0.069, 0.08, 0.098, 0.122, 0.151, 0.177, 0.209, 0.241, 0.22, 0.273, 0.326,
           0.411, 0.496, 0.533, 0.421, 0.379, 0.241, 0.071, 0.007]
e_bed_ws = [6.26, 5.63, 4.97, 4.40, 4.05, 3.53, 3.18, 2.83, 2.47, 2.17, 1.95, 1.73, 1.34, 1.05, 0.94,
            0.85, 0.68, 0.53, 0.42, 0.33, 0.22, 0.15, 0.09]
e_floc_f = [0.002, 0.007, 0.0, 0.013, 0.023, 0.029, 0.034, 0.055, 0.135, 0.198, 0.262, 0.31, 0.22, 0.368, 0.485,
            0.623, 0.878, 0.729, 0.411, 0.082]
e_floc_ws = [6.26, 5.19, 4.40, 4.05, 3.44, 2.74, 2.17, 1.80, 1.47, 1.20, 0.90, 0.64, 0.50, 0.44, 0.42,
             0.22, 0.13, 0.10, 0.04, 0.02]
e_prim_f = [0.005, 0.007, 0.013, 0.023, 0.034, 0.039, 0.034, 0.018, 0.002]
e_prim_ws = [6.26, 5.19, 4.53, 3.88, 2.99, 2.12, 1.03, 0.59, 0.02]

# ---------------- Panel F : density distributions ----------------
f_count_f = [0.002, 0.016, 0.007, 0.016, 0.005, 0.018, 0.010, 0.023, 0.016, 0.039, 0.010, 0.045, 0.023, 0.050,
             0.071, 0.039, 0.055, 0.108, 0.103, 0.161, 0.214, 0.368, 0.416, 0.623, 0.942, 0.639]
f_count_rho = [2993, 2869, 2716, 2551, 2426, 2302, 2177, 2136, 2080, 2039, 1977, 1942, 1873, 1804,
               1721, 1624, 1575, 1527, 1472, 1375, 1278, 1223, 1174, 1119, 1078, 1022]
f_mass_f = [0.018, 0.013, 0.018, 0.039, 0.013, 0.039, 0.050, 0.098, 0.055, 0.066, 0.167, 0.151, 0.209, 0.220,
            0.453, 0.485, 0.581, 0.660, 0.188]
f_mass_rho = [2869, 2578, 2274, 2053, 1984, 1928, 1845, 1721, 1638, 1569, 1527, 1430, 1368, 1327,
              1209, 1168, 1140, 1071, 1022]
class_limits = [1150, 1800]

info_lines = ["ID: M5420_0", "Sample Date: 17-Sep-2014", "Sample Time: 12:16:08 PM", "Depth=4.6992 m",
              "N=1332 particles", "d<sub>50,p</sub>=  63.8 \u03bcm", "d<sub>50,m</sub>= 100.3 \u03bcm",
              "ws<sub>50,p</sub>= 0.374 mm\u00b7s<sup>-1</sup>", "ws<sub>50,m</sub>= 1.214 mm\u00b7s<sup>-1</sup>",
              "%_f(c,m): 49.7 33.7", "%_ba(c,m): 44.7 57.8", "%_p(c,m): 5.6 8.5",
              "AnalysisDate: 27-Nov-2016", "File: 20140917121608.seq"]

# =====================================================================
fig = go.Figure()


def X(p):
    return (p - OFF) / FW


def Y(p):
    return 1 - (p - OFF) / FH


GREEN = "#00FF00"
RED = "#FF0000"
BLUE = "#0000FF"
DGREEN = "#00A000"
DRED = "#B00000"
DBLUE = "#0000B0"

A_styles = [("black", "solid"), ("black", "12px,7px"), ("black", "10px,5px,3px,5px"), (GREEN, "10px,5px,3px,5px")]
A_series = [frac_count, frac_mass, frac_voltr, frac_volall]
for nm, ser, (col, ds) in zip(names_A, A_series, A_styles):
    fig.add_trace(go.Scatter(x=esd_bins, y=ser, mode="lines", name=nm, xaxis="x", yaxis="y",
                             line=dict(color=col, dash=ds, width=2.8), showlegend=False))

B_cols = [BLUE, RED, GREEN]
B_series = [mf_floc, mf_bedagg, mf_primary]
for nm, ser, col in zip(names_B, B_series, B_cols):
    fig.add_trace(go.Scatter(x=esd_bins, y=ser, mode="lines", name=nm, xaxis="x2", yaxis="y2",
                             line=dict(color=col, dash="11px,8px", width=3.2), showlegend=False))

# Panel C scatter
for pts, col in [(c_bedagg, RED), (c_floc, BLUE), (c_primary, GREEN)]:
    fig.add_trace(go.Scatter(x=[p[0] for p in pts], y=[p[1] for p in pts], mode="markers",
                             xaxis="x3", yaxis="y3", showlegend=False,
                             marker=dict(color=col, size=5, line=dict(width=0))))
for fx, fy, col in [(fit_green_x, fit_green_ws, DGREEN), (fit_red_x, fit_red_ws, DRED),
                    (fit_black_x, fit_black_ws, "black"), (fit_blue_x, fit_blue_ws, DBLUE)]:
    fig.add_trace(go.Scatter(x=fx, y=fy, mode="lines", xaxis="x3", yaxis="y3", showlegend=False,
                             line=dict(color=col, dash="20px,11px", width=3.6, shape="spline")))
for dxs, dys, col in [(dia_green_x, dia_green_ws, DGREEN), (dia_red_x, dia_red_ws, DRED),
                      (dia_black_x, dia_black_ws, "black"), (dia_blue_x, dia_blue_ws, DBLUE)]:
    fig.add_trace(go.Scatter(x=dxs, y=dys, mode="markers", xaxis="x3", yaxis="y3", showlegend=False,
                             marker=dict(color=col, symbol="diamond-tall", size=19, line=dict(width=0))))

# Panel D scatter
for pts, col in [(d_bedagg, RED), (d_floc, BLUE), (d_primary, GREEN)]:
    fig.add_trace(go.Scatter(x=[p[0] for p in pts], y=[p[1] for p in pts], mode="markers",
                             xaxis="x4", yaxis="y4", showlegend=False,
                             marker=dict(color=col, size=5, line=dict(width=0))))
fig.add_trace(go.Scatter(x=mean_rho_x, y=mean_rho, mode="lines", xaxis="x4", yaxis="y4", showlegend=False,
                         line=dict(color="black", width=3.6)))

# Panel E
for fx, fy, col in [(e_all_f, e_all_ws, "black"), (e_bed_f, e_bed_ws, RED),
                    (e_floc_f, e_floc_ws, BLUE), (e_prim_f, e_prim_ws, GREEN)]:
    fig.add_trace(go.Scatter(x=fx, y=fy, mode="lines", xaxis="x5", yaxis="y5", showlegend=False,
                             line=dict(color=col, dash="11px,8px", width=3)))

# Panel F
fig.add_trace(go.Scatter(x=f_count_f, y=f_count_rho, mode="lines", xaxis="x6", yaxis="y6", showlegend=False,
                         line=dict(color="black", width=2.8)))
fig.add_trace(go.Scatter(x=f_mass_f, y=f_mass_rho, mode="lines", xaxis="x6", yaxis="y6", showlegend=False,
                         line=dict(color="black", width=2.8, dash="12px,7px")))

minor_vals = [20, 30, 40, 50, 60, 70, 80, 90, 200, 300, 400, 500, 600, 700, 800, 900]
tickfont = dict(family=FONT, size=24, color="black")


def log_x(domain, anchor, labels=True):
    return dict(domain=domain, anchor=anchor, type="log", range=[1, math.log10(1500)],
                tickmode="array", tickvals=x_tick_vals, ticktext=x_tick_text,
                ticks="outside", ticklen=10, tickwidth=1.5, tickcolor=AXC,
                minor=dict(tickmode="array", tickvals=minor_vals, ticks="outside", ticklen=10,
                           tickwidth=1.5, tickcolor=AXC, showgrid=False),
                showline=True, linecolor=AXC, linewidth=2, mirror="allticks", automargin=False,
                showgrid=False, zeroline=False, showticklabels=labels, tickfont=tickfont)


def plain_y(domain, anchor, rng):
    return dict(domain=domain, anchor=anchor, range=rng, showticklabels=False, ticks="", automargin=False,
                showline=True, linecolor=AXC, linewidth=2, mirror=True, showgrid=False, zeroline=False)


dxA = [X(169), X(1248)]
dxE = [X(1307.7), X(1621.7)]
dyA = [Y(399), Y(20.5)]
dyB = [Y(836.5), Y(457.3)]
dyC = [Y(1372), Y(888.5)]
dyD = [Y(1912.5), Y(1430)]

layout = dict(
    width=FW, height=FH, margin=dict(l=0, r=0, t=0, b=0, pad=0, autoexpand=False),
    paper_bgcolor="white", plot_bgcolor="white", showlegend=False,
    font=dict(family=FONT, color="black"),
    xaxis=log_x(dxA, "y"), yaxis=plain_y(dyA, "x", [0, 1]),
    xaxis2=log_x(dxA, "y2"), yaxis2=plain_y(dyB, "x2", [0, 1]),
    xaxis3=log_x(dxA, "y3"),
    yaxis3=dict(domain=dyC, anchor="x3", range=[-0.1, 6.235], tickmode="array", tickvals=[0, 1, 2, 3, 4, 5, 6],
                ticks="outside", ticklen=10, tickwidth=1.5, tickcolor=AXC, showline=True, linecolor=AXC,
                linewidth=2, mirror="allticks", showgrid=False, zeroline=False, tickfont=tickfont, automargin=False),
    xaxis4=log_x(dxA, "y4"),
    yaxis4=dict(domain=dyD, anchor="x4", range=[1000, 3000], tickmode="linear", tick0=1000, dtick=200,
                ticks="outside", ticklen=10, tickwidth=1.5, tickcolor=AXC, showline=True, linecolor=AXC,
                linewidth=2, mirror="allticks", showgrid=False, zeroline=False, tickfont=tickfont, automargin=False),
    xaxis5=dict(domain=dxE, anchor="y5", range=[0, 1], showticklabels=False, ticks="", showline=True,
                linecolor=AXC, linewidth=2, mirror=True, showgrid=False, zeroline=False, automargin=False),
    yaxis5=dict(domain=dyC, anchor="x5", range=[-0.1, 6.235], tickmode="array", tickvals=[0, 1, 2, 3, 4, 5, 6],
                ticks="inside", ticklen=7, tickwidth=1.5, tickcolor=AXC, showticklabels=False, showline=True,
                linecolor=AXC, linewidth=2, mirror="allticks", showgrid=False, zeroline=False, automargin=False),
    xaxis6=dict(domain=dxE, anchor="y6", range=[0, 1], showticklabels=False, ticks="", showline=True,
                linecolor=AXC, linewidth=2, mirror=True, showgrid=False, zeroline=False, automargin=False),
    yaxis6=dict(domain=dyD, anchor="x6", range=[1000, 3000], tickmode="linear", tick0=1000, dtick=200,
                ticks="inside", ticklen=7, tickwidth=1.5, tickcolor=AXC, showticklabels=False, showline=True,
                linecolor=AXC, linewidth=2, mirror="allticks", showgrid=False, zeroline=False, automargin=False),
)
fig.update_layout(**layout)

shapes = []
annotations = []

# class limit lines in F
for lim in class_limits:
    shapes.append(dict(type="line", xref="x6 domain", yref="y6", x0=0, x1=1, y0=lim, y1=lim,
                       line=dict(color="#808080", width=2, dash="8px,6px"), layer="above"))

# info box
shapes.append(dict(type="rect", xref="paper", yref="paper", x0=X(1292), x1=X(1667), y0=Y(648), y1=Y(23),
                   line=dict(color="black", width=2), fillcolor="rgba(0,0,0,0)"))
info_y = [41.7, 67.3, 93.3, 119.3, 145, 177, 214, 256, 301, 335, 361, 387.3, 413.3, 439]
for txt, yy in zip(info_lines, info_y):
    annotations.append(dict(xref="paper", yref="paper", x=X(1303), y=Y(yy), text=txt, showarrow=False,
                            xanchor="left", yanchor="middle", font=dict(family=FONT, size=25, color="black")))

# legend A (hand-built box)
shapes.append(dict(type="rect", xref="paper", yref="paper", x0=X(111), x1=X(330), y0=Y(135), y1=Y(39.3),
                   line=dict(color=AXC, width=1.8), fillcolor="white", layer="above"))
legA_y = [52.7, 75, 97.3, 118.7]
for nm, (col, ds), yy in zip(names_A, A_styles, legA_y):
    shapes.append(dict(type="line", xref="paper", yref="paper", x0=X(121.7), x1=X(185), y0=Y(yy), y1=Y(yy),
                       line=dict(color=col, width=2.8, dash=ds), layer="above"))
    annotations.append(dict(xref="paper", yref="paper", x=X(190), y=Y(yy), text=nm, showarrow=False,
                            xanchor="left", yanchor="middle", font=dict(family=FONT, size=22.5, color="black")))

# legend B
shapes.append(dict(type="rect", xref="paper", yref="paper", x0=X(185), x1=X(336.6), y0=Y(604), y1=Y(530),
                   line=dict(color=AXC, width=1.8), fillcolor="white", layer="above"))
legB_y = [545, 566.7, 588.3]
for nm, col, yy in zip(names_B, B_cols, legB_y):
    shapes.append(dict(type="line", xref="paper", yref="paper", x0=X(195.6), x1=X(258.7), y0=Y(yy), y1=Y(yy),
                       line=dict(color=col, width=3.2, dash="11px,8px"), layer="above"))
    annotations.append(dict(xref="paper", yref="paper", x=X(264), y=Y(yy), text=nm, showarrow=False,
                            xanchor="left", yanchor="middle", font=dict(family=FONT, size=22.5, color="black")))

# panel letters
for lab, px, py in [("A)", 203, 35), ("B)", 208, 484), ("C)", 210, 907), ("D)", 221, 1456),
                    ("E)", 1581, 916), ("F)", 1577, 1462)]:
    annotations.append(dict(xref="paper", yref="paper", x=X(px), y=Y(py), text="<b>%s</b>" % lab,
                            showarrow=False, xanchor="center", yanchor="middle",
                            font=dict(family=FONT, size=23, color="black")))

# axis titles
for txt, px, py, ang in [("fraction", 135, 212, -90), ("mass fraction", 135, 646, -90),
                         ("W<sub>s</sub> [mm s<sup>-1</sup>]", 109, 1127, -90),
                         ("particle density [kg . m<sup>-3</sup>]", 83.5, 1669, -90),
                         ("esd [\u03bcm]", 706, 1968, 0)]:
    annotations.append(dict(xref="paper", yref="paper", x=X(px), y=Y(py), text=txt, textangle=ang,
                            showarrow=False, xanchor="center", yanchor="middle",
                            font=dict(family=FONT, size=26, color="black")))

# fit labels in panel C
for lab, lx, ly, col, ang in zip(fit_labels, fit_label_x, fit_label_ws, [DGREEN, DRED, "black", DBLUE],
                                 [-57, -66, -62, -68]):
    annotations.append(dict(xref="x3", yref="y3", x=math.log10(lx), y=ly, text=lab, textangle=ang,
                            showarrow=False, xanchor="center", yanchor="middle",
                            font=dict(family=FONT, size=25, color=col)))

fig.update_layout(shapes=shapes, annotations=annotations)

fig.write_html("out.html", config={"displayModeBar": False})
